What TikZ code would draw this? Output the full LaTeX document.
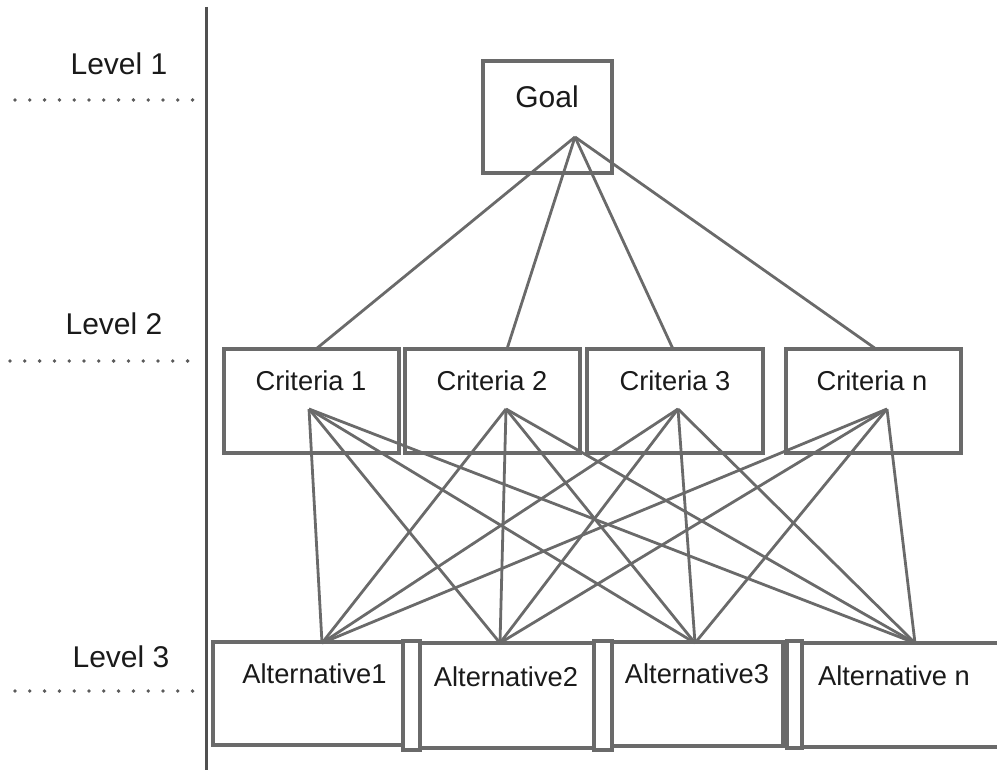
\documentclass[tikz,border=0pt]{standalone}
\usepackage{fontspec}
\setmainfont{Liberation Sans}
\definecolor{ln}{HTML}{6A6A6A}
\definecolor{ax}{HTML}{505050}
\definecolor{dt}{HTML}{5A5A5A}
\definecolor{txt}{HTML}{1A1A1A}
\tikzset{
  box/.style={draw=ln, line width=3.3pt, inner sep=0pt, fill=none},
  conn/.style={draw=ln, line width=2.8pt},
  axisline/.style={draw=ax, line width=3pt},
  dotline/.style={draw=dt, line width=3.8pt, line cap=round, dash pattern=on 0pt off 14.8pt},
  lvl/.style={text=txt, anchor=base, inner sep=0pt, font=\fontsize{30}{36}\selectfont},
  lbl/.style={text=txt, anchor=base, inner sep=0pt, font=\fontsize{27.3}{33}\selectfont},
}
\begin{document}
\begin{tikzpicture}[x=1pt,y=-1pt]
\useasboundingbox (0,0) rectangle (997,770);
\clip (0,0) rectangle (997,770);
% axis
\coordinate (axTop) at (206,7);
\coordinate (axBot) at (206,770);
\draw[axisline] (axTop) -- (axBot);
% levels
\node[lvl] (l1) at (119,75) {Level 1};
\node[lvl] (l2) at (114,335) {Level 2};
\node[lvl] (l3) at (121,667) {Level 3};
\coordinate (d1a) at (15,100);  \coordinate (d1b) at (193,100);
\coordinate (d2a) at (10,361);  \coordinate (d2b) at (199,361);
\coordinate (d3a) at (15,691);  \coordinate (d3b) at (193,691);
\draw[dotline] (d1a) -- (d1b);
\draw[dotline] (d2a) -- (d2b);
\draw[dotline] (d3a) -- (d3b);
% goal
\node[box, minimum width=129pt, minimum height=112pt] (g) at (547.5,117) {};
\node[lvl] (gt) at (547,108) {Goal};
% criteria
\node[box, minimum width=175pt, minimum height=104pt] (c1) at (311.5,401) {};
\node[box, minimum width=175pt, minimum height=104pt] (c2) at (492.5,401) {};
\node[box, minimum width=176pt, minimum height=104pt] (c3) at (675,401) {};
\node[box, minimum width=175pt, minimum height=104pt] (cn) at (873.5,401) {};
\node[lbl] (c1t) at (311,391) {Criteria 1};
\node[lbl] (c2t) at (492,391) {Criteria 2};
\node[lbl] (c3t) at (675,391) {Criteria 3};
\node[lbl] (cnt) at (872,391) {Criteria n};
% alternatives
\node[box, minimum width=17pt, minimum height=109pt] (s1) at (411.5,695.5) {};
\node[box, minimum width=18pt, minimum height=109pt] (s2) at (603,695.5) {};
\node[box, minimum width=15pt, minimum height=107pt] (s3) at (794.5,694.5) {};
\node[box, minimum width=190pt, minimum height=103pt] (a1) at (308,693.5) {};
\node[box, minimum width=174pt, minimum height=105pt] (a2) at (507,695.5) {};
\node[box, minimum width=171pt, minimum height=104pt] (a3) at (697.5,694) {};
\node[box, minimum width=220pt, minimum height=104pt] (an) at (912,695) {};
\node[lbl] (a1t) at (314.5,683) {Alternative1};
\node[lbl] (a2t) at (506,686) {Alternative2};
\node[lbl] (a3t) at (697,683) {Alternative3};
\node[lbl] (ant) at (894,685) {Alternative n};
% connector points
\coordinate (gA) at (575,137);
\coordinate (c1T) at (316,349);
\coordinate (c2T) at (507,349);
\coordinate (c3T) at (673,349);
\coordinate (cnT) at (876,349);
\coordinate (c1B) at (309,409);
\coordinate (c2B) at (506,409);
\coordinate (c3B) at (678,409);
\coordinate (cnB) at (887,409);
\coordinate (a1T) at (322,643);
\coordinate (a2T) at (500,643);
\coordinate (a3T) at (695,643);
\coordinate (anT) at (915,643);
\foreach \c in {c1,c2,c3,cn} {
  \draw[conn] (gA) -- (\c T);
  \foreach \a in {a1,a2,a3,an} {
    \draw[conn] (\c B) -- (\a T);
  }
}
\end{tikzpicture}
\end{document}
